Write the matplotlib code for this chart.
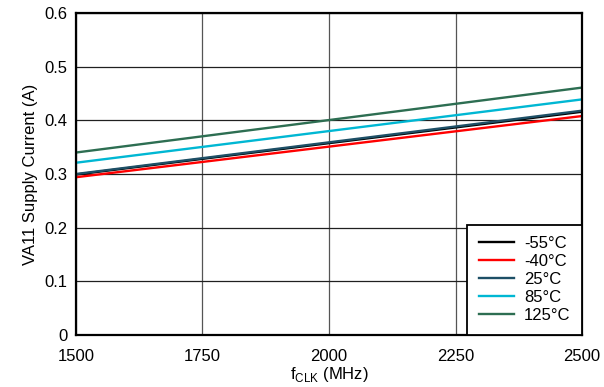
import matplotlib
matplotlib.use('Agg')
import matplotlib.pyplot as plt

plt.rcParams['font.family'] = ['Liberation Sans', 'DejaVu Sans']
plt.rcParams['mathtext.fontset'] = 'custom'
plt.rcParams['mathtext.rm'] = 'Liberation Sans'

# data
f_clk = [1500, 2500]
labels = ['-55°C', '-40°C', '25°C', '85°C', '125°C']
i_m55 = [0.299, 0.416]
i_m40 = [0.294, 0.408]
i_25 = [0.300, 0.418]
i_85 = [0.321, 0.439]
i_125 = [0.340, 0.461]
colors = ['#000000', '#ff0000', '#1d4f66', '#00b7d3', '#2d6e52']

fig = plt.figure(figsize=(6.04, 3.87), dpi=100)
ax = fig.add_axes([0.1258, 0.1344, 0.8378, 0.832])

for ys, lab, c in zip([i_m55, i_m40, i_25, i_85, i_125], labels, colors):
    ax.plot(f_clk, ys, color=c, lw=1.7, label=lab)

ax.set_xlim(1500, 2500)
ax.set_ylim(0, 0.6)
ax.set_xticks([1500, 1750, 2000, 2250, 2500])
ax.set_yticks([0, 0.1, 0.2, 0.3, 0.4, 0.5, 0.6])
ax.set_yticklabels(['0', '0.1', '0.2', '0.3', '0.4', '0.5', '0.6'])
ax.grid(True, axis='y', color='#202020', lw=0.9)
ax.grid(True, axis='x', color='#555555', lw=0.9)
ax.set_axisbelow(True)
for s in ax.spines.values():
    s.set_linewidth(1.6)
ax.tick_params(length=0, labelsize=12)
ax.tick_params(axis='x', pad=10)
ax.tick_params(axis='y', pad=6)

ax.set_xlabel('f$_{\\mathrm{CLK}}$ (MHz)', fontsize=12, labelpad=1)
ax.set_ylabel('VA11 Supply Current (A)', fontsize=12, labelpad=5)

leg = ax.legend(loc='lower right', fontsize=12, fancybox=False, framealpha=1,
                edgecolor='black', borderaxespad=0, handlelength=2.1,
                handletextpad=0.6, labelspacing=0.18, borderpad=0.7)
leg.get_frame().set_linewidth(1.3)

fig.savefig('out.png', dpi=100)
